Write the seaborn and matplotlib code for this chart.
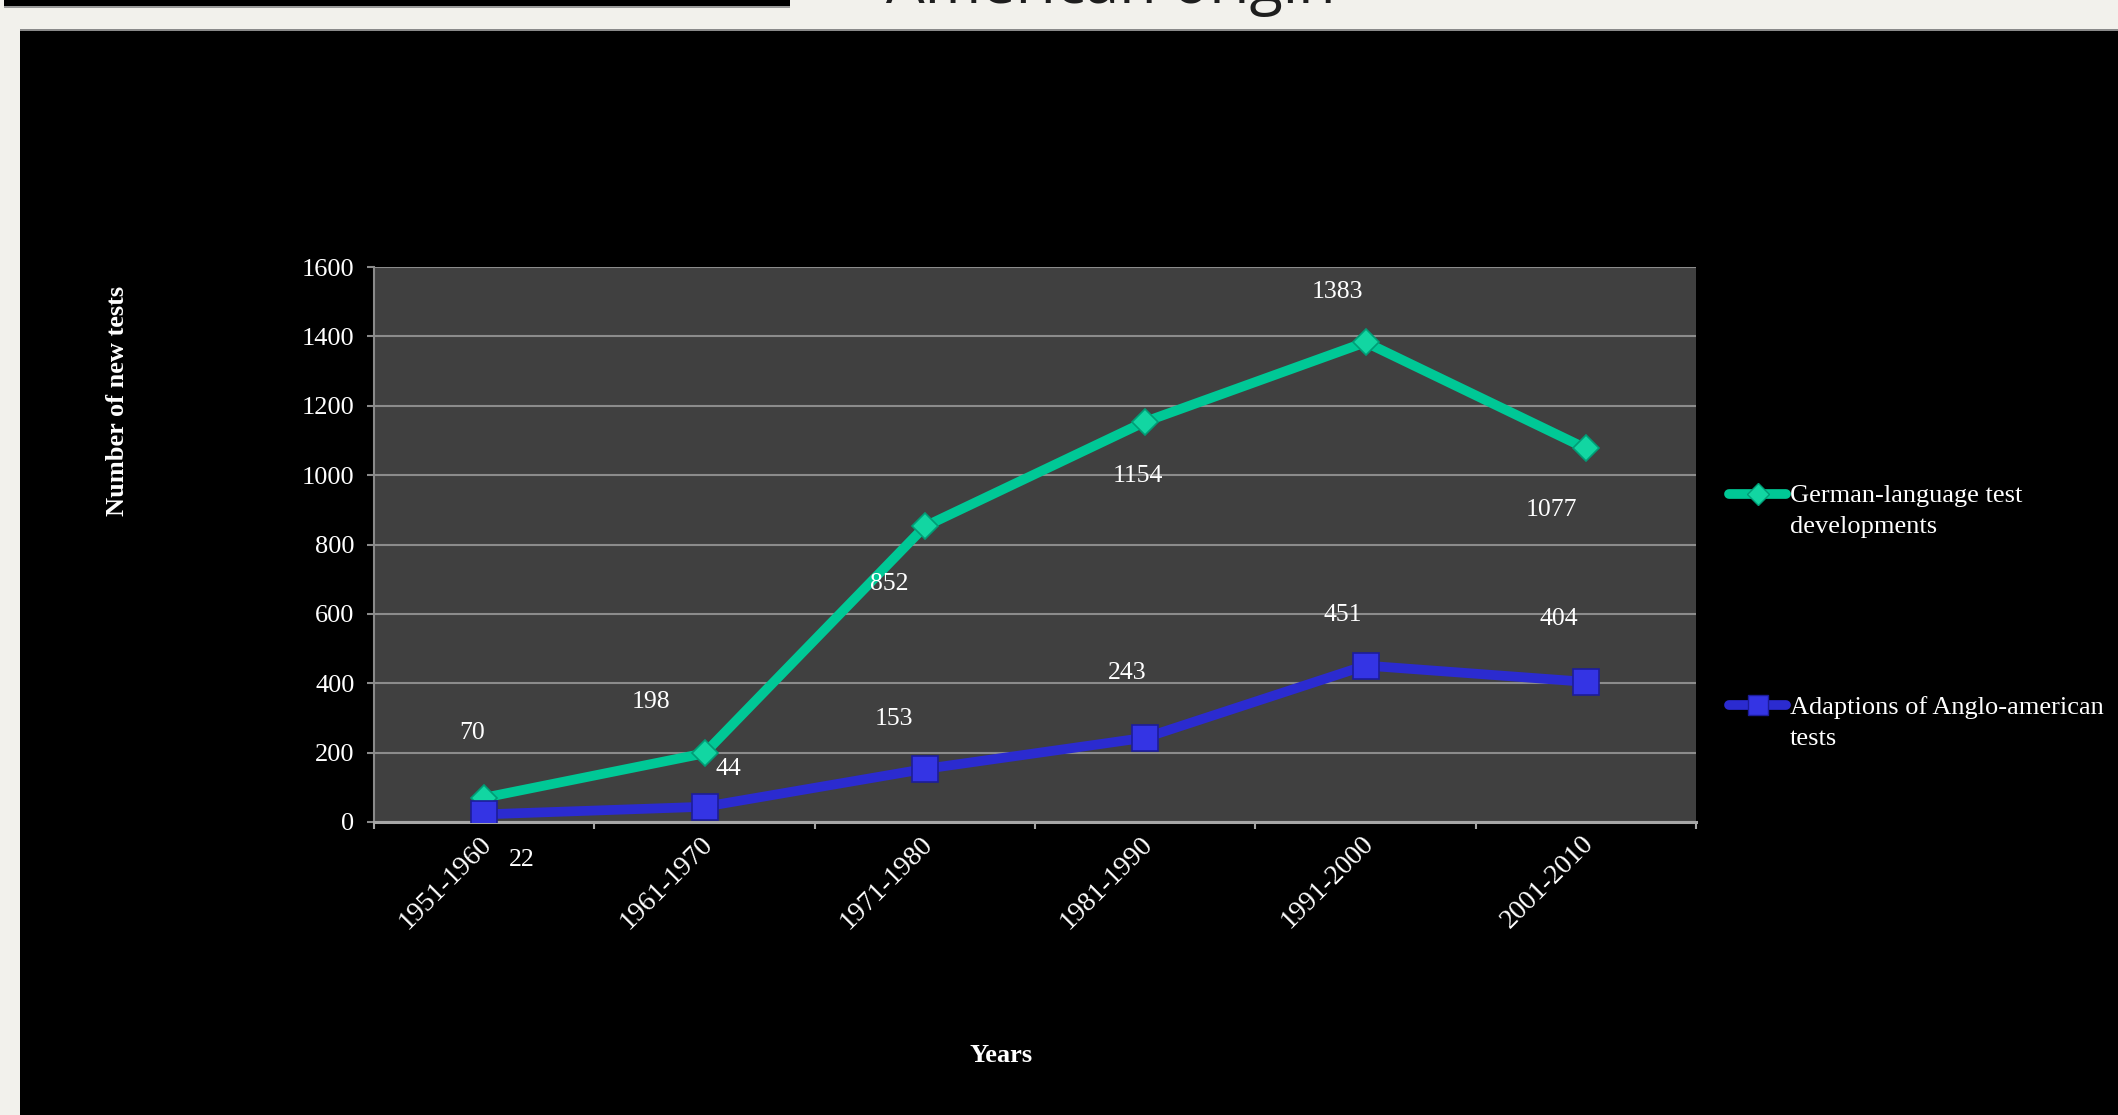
import numpy as np
import pandas as pd
import matplotlib
matplotlib.use("Agg")
import matplotlib.pyplot as plt
import seaborn as sns
from matplotlib.lines import Line2D
from matplotlib.patches import Rectangle
import matplotlib.transforms as mtransforms

# ---------------- data ----------------
periods = ["1951-1960", "1961-1970", "1971-1980", "1981-1990", "1991-2000", "2001-2010"]
german_tests = [70, 198, 852, 1154, 1383, 1077]
anglo_adaptions = [22, 44, 153, 243, 451, 404]
series_names = ["German-language test\ndevelopments", "Adaptions of Anglo-american\ntests"]
y_ticks = [0, 200, 400, 600, 800, 1000, 1200, 1400, 1600]
title_text = "American origin"
y_label = "Number of new tests"
x_label = "Years"

# label offsets in pixels (style, not data)
german_label_offsets = [(-12, 65), (-54, 51), (-36, -58), (-7, -54), (-28, 50), (-34, -62)]
anglo_label_offsets = [(38, -46), (24, 38), (-31, 50), (-18, 65), (-23, 51), (-27, 63)]

df = pd.DataFrame({
    "period": periods * 2,
    "value": german_tests + anglo_adaptions,
    "series": [series_names[0]] * len(periods) + [series_names[1]] * len(periods),
})

sns.set_theme(style="dark")
plt.rcParams['font.family'] = ['Liberation Serif', 'DejaVu Serif']

W, H = 2118, 1115
fig = plt.figure(figsize=(W / 100, H / 100), dpi=100, facecolor='#f2f1ec')

# slide decorations (behind the axes)
deco = dict(transform=fig.transFigure, edgecolor='none', zorder=-10)
fig.patches.append(Rectangle((20 / W, 0), (W - 20) / W, (H - 29) / H, facecolor='black', **deco))
fig.patches.append(Rectangle((20 / W, (H - 30.5) / H), (W - 20) / W, 1.5 / H, facecolor='#8a8a8a', **deco))
fig.patches.append(Rectangle((4 / W, (H - 6) / H), 786 / W, 6 / H, facecolor='black', **deco))
fig.patches.append(Rectangle((4 / W, (H - 7.5) / H), 786 / W, 1.5 / H, facecolor='#9a9a9a', **deco))
fig.text(1111 / W, 1 - 3 / H, title_text, fontsize=44, family=['Open Sans', 'DejaVu Sans'],
         color='#1e1e1e', ha='center', va='baseline')

ax = fig.add_axes([374 / W, (H - 822) / H, (1696 - 374) / W, (822 - 267) / H])
ax.set_facecolor('#404040')

styles = [
    dict(color='#00c896', marker='D', markersize=13.5, markerfacecolor='#12d6a2', markeredgecolor='#009c76'),
    dict(color='#2b2bd0', marker='s', markersize=19, markerfacecolor='#3434e4', markeredgecolor='#1c1c9a'),
]
for name, st in zip(series_names, styles):
    sub = df[df["series"] == name]
    sns.lineplot(data=sub, x="period", y="value", ax=ax, sort=False, legend=False,
                 linewidth=7, markeredgewidth=1.2, zorder=3, **st)

ax.set_xlim(-0.5, len(periods) - 0.5)
ax.set_ylim(0, 1600)
ax.set_yticks(y_ticks)
ax.set_yticklabels([str(t) for t in y_ticks])

ax.yaxis.grid(True, color='#8c8c8c', linewidth=1.5)
ax.xaxis.grid(False)
ax.set_axisbelow(True)

for s in ['top', 'right']:
    ax.spines[s].set_visible(False)
ax.spines['left'].set_color('#8a8a8a')
ax.spines['left'].set_linewidth(1.5)
ax.spines['bottom'].set_color('#a6a6a6')
ax.spines['bottom'].set_linewidth(2.2)
ax.spines['bottom'].set_zorder(2.5)

ax.tick_params(axis='y', which='major', direction='out', length=5, width=1.5, color='#8a8a8a',
               labelcolor='white', labelsize=19, pad=9, left=True)

ax.set_xticks(range(len(periods)))
ax.set_xticklabels(periods, rotation=45, ha='right', va='center', rotation_mode='anchor')
ax.set_xticks(np.arange(-0.5, len(periods), 1.0), minor=True)
ax.tick_params(axis='x', which='major', length=0, labelcolor='white', labelsize=20, pad=13)
ax.tick_params(axis='x', which='minor', direction='out', length=5, width=1.5, color='#a6a6a6', bottom=True)
shift = mtransforms.ScaledTranslation(4 / 100, 0, fig.dpi_scale_trans)
for lab in ax.get_xticklabels():
    lab.set_transform(lab.get_transform() + shift)

ax.set_xlabel(x_label, fontsize=19, fontweight='bold', color='white', va='center')
ax.xaxis.set_label_coords(0.4746, -0.42)
ax.set_ylabel(y_label, fontsize=19, fontweight='bold', color='white', va='center')
ax.yaxis.set_label_coords(-0.1937, 0.759)

for i, (v, off) in enumerate(zip(german_tests, german_label_offsets)):
    ax.annotate(str(v), (i, v), xytext=off, textcoords='offset pixels', ha='center', va='center',
                color='white', fontsize=18.5, zorder=5)
for i, (v, off) in enumerate(zip(anglo_adaptions, anglo_label_offsets)):
    ax.annotate(str(v), (i, v), xytext=off, textcoords='offset pixels', ha='center', va='center',
                color='white', fontsize=18.5, zorder=5)

# legends
h1 = Line2D([0], [0], color='#00c896', lw=7, marker='D', markersize=11, markerfacecolor='#12d6a2',
            markeredgecolor='#009c76', solid_capstyle='round')
h2 = Line2D([0], [0], color='#2b2bd0', lw=7, marker='s', markersize=14.5, markerfacecolor='#3434e4',
            markeredgecolor='#1c1c9a', solid_capstyle='round')
leg_kw = dict(frameon=False, fontsize=19, labelcolor='white', handlelength=2.16, handletextpad=0.15,
              borderpad=0, borderaxespad=0, loc='upper left', bbox_transform=fig.transFigure)
leg1 = fig.legend([h1], [series_names[0]], bbox_to_anchor=(1729 / W, 1 - 485 / H), **leg_kw)
leg2 = fig.legend([h2], [series_names[1]], bbox_to_anchor=(1729 / W, 1 - 696 / H), **leg_kw)
up = mtransforms.ScaledTranslation(0, 17 / 100, fig.dpi_scale_trans)
for leg in (leg1, leg2):
    for t in leg.get_texts():
        t.set_linespacing(1.55)
    for hnd in leg.legend_handles:
        hnd.set_transform(hnd.get_transform() + up)

fig.savefig("out.png", dpi=100, facecolor=fig.get_facecolor())
